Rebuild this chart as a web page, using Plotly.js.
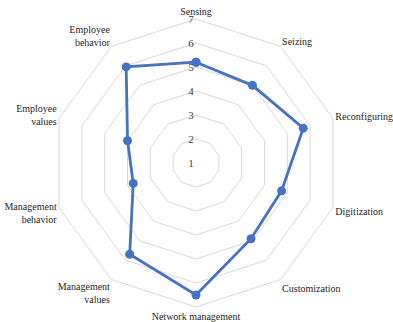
<!DOCTYPE html>
<html>
<head>
<meta charset="utf-8">
<script src="https://cdn.plot.ly/plotly-3.0.1.min.js"></script>
<style>html,body{margin:0;padding:0;background:#fff;}#chart{width:393px;height:322px;}</style>
</head>
<body>
<div id="chart"></div>
<script>
var categories = ["Sensing", "Seizing", "Reconfiguring", "Digitization", "Customization",
  "Network management", "Management<br>values", "Management<br>behavior", "Employee<br>values", "Employee<br>behavior"];
var values = [5.2, 5.0, 5.7, 4.75, 4.9, 6.5, 5.7, 3.75, 4.0, 5.95];
var radialTicks = [1, 2, 3, 4, 5, 6, 7];

var trace = {
  type: 'scatterpolar',
  r: values.concat([values[0]]),
  theta: categories.concat([categories[0]]),
  mode: 'lines+markers',
  line: {color: '#4472C4', width: 2.8},
  marker: {color: '#4472C4', size: 9},
  hoverinfo: 'none'
};

var cx = 196, cy = 163, R = 144, W = 393, H = 322;
var layout = {
  width: W, height: H,
  margin: {l: 0, r: 0, t: 0, b: 0},
  paper_bgcolor: '#fff',
  showlegend: false,
  font: {family: '"Liberation Serif", "Times New Roman", serif', size: 11, color: '#404040'},
  polar: {
    domain: {x: [(cx - R) / W, (cx + R) / W], y: [(H - cy - R) / H, (H - cy + R) / H]},
    bgcolor: '#fff',
    gridshape: 'linear',
    radialaxis: {
      range: [1, 7],
      tickvals: radialTicks,
      ticktext: radialTicks.map(String),
      angle: 90,
      tickangle: 90,
      side: 'counterclockwise',
      showline: false,
      ticks: '',
      showgrid: true,
      gridcolor: '#d9d9d9',
      gridwidth: 1,
      tickfont: {size: 11, color: '#404040'}
    },
    angularaxis: {
      rotation: 90,
      direction: 'clockwise',
      showgrid: false,
      showline: true,
      linecolor: '#d9d9d9',
      linewidth: 1,
      ticks: '',
      tickfont: {size: 10, color: '#262626'}
    }
  }
};

Plotly.newPlot('chart', [trace], layout, {staticPlot: true, displayModeBar: false});
</script>
</body>
</html>
